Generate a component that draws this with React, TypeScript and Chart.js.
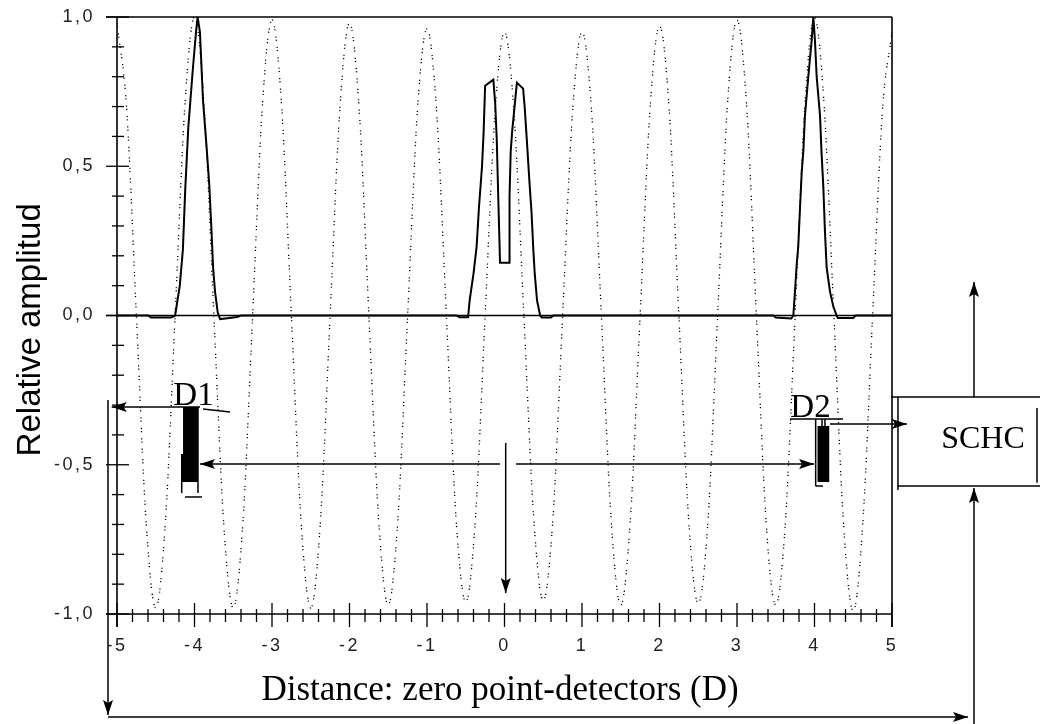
import React, { useEffect, useRef } from 'react';
import { Chart, registerables } from 'chart.js';

Chart.register(...registerables);

// Dotted standing wave (read at 1/8 steps)
const waveX = [
  -5, -4.875, -4.75, -4.625, -4.5, -4.375, -4.25, -4.125,
  -4, -3.875, -3.75, -3.625, -3.5, -3.375, -3.25, -3.125,
  -3, -2.875, -2.75, -2.625, -2.5, -2.375, -2.25, -2.125,
  -2, -1.875, -1.75, -1.625, -1.5, -1.375, -1.25, -1.125,
  -1, -0.875, -0.75, -0.625, -0.5, -0.375, -0.25, -0.125,
  0, 0.125, 0.25, 0.375, 0.5, 0.625, 0.75, 0.875,
  1, 1.125, 1.25, 1.375, 1.5, 1.625, 1.75, 1.875,
  2, 2.125, 2.25, 2.375, 2.5, 2.625, 2.75, 2.875,
  3, 3.125, 3.25, 3.375, 3.5, 3.625, 3.75, 3.875,
  4, 4.125, 4.25, 4.375, 4.5, 4.625, 4.75, 4.875,
  5,
];
const waveY = [
  0.98, 0.69, 0, -0.69, -0.98, -0.69, 0, 0.7,
  1.0, 0.7, 0, -0.69, -0.98, -0.69, 0, 0.7,
  0.99, 0.7, 0, -0.69, -0.98, -0.69, 0, 0.69,
  0.98, 0.69, 0, -0.68, -0.97, -0.68, 0, 0.68,
  0.96, 0.68, 0, -0.68, -0.96, -0.68, 0, 0.67,
  0.95, 0.67, 0, -0.67, -0.955, -0.68, 0, 0.67,
  0.95, 0.68, 0, -0.68, -0.97, -0.68, 0, 0.68,
  0.97, 0.69, 0, -0.68, -0.965, -0.69, 0, 0.7,
  0.99, 0.7, 0, -0.69, -0.97, -0.69, 0, 0.7,
  1.0, 0.7, 0, -0.7, -0.99, -0.69, 0, 0.68,
  0.95,
];

// Solid detected signal
const solidX = [
  -5, -4.6, -4.56, -4.3, -4.25, -4.19, -4.15, -4.12, -4.08, -4.02, -3.98, -3.96,
  -3.93, -3.89, -3.84, -3.81, -3.78, -3.76, -3.735, -3.7, -3.67, -3.6, -3.45, -3.4,
  -0.62, -0.58, -0.47, -0.45, -0.4, -0.36, -0.33, -0.29, -0.27, -0.25, -0.144,
  -0.12, -0.1, -0.08, -0.065, -0.058, 0.06, 0.065, 0.08, 0.1, 0.16, 0.24, 0.26,
  0.29, 0.32, 0.35, 0.37, 0.39, 0.42, 0.46, 0.48, 0.6, 0.63,
  3.47, 3.5, 3.7, 3.727, 3.748, 3.77, 3.79, 3.813, 3.835, 3.856, 3.877, 3.92,
  3.963, 3.985, 4.006, 4.028, 4.071, 4.09, 4.114, 4.135, 4.157, 4.2, 4.243, 4.286,
  4.3, 4.5, 4.53, 5,
];
const solidY = [
  0, 0, -0.007, -0.007, 0, 0.1, 0.22, 0.42, 0.63, 0.83, 0.95, 1.0,
  0.95, 0.72, 0.55, 0.44, 0.28, 0.16, 0.08, 0.01, -0.012, -0.01, -0.005, 0,
  0, -0.006, -0.006, 0.05, 0.14, 0.23, 0.36, 0.5, 0.61, 0.77, 0.79,
  0.71, 0.59, 0.39, 0.25, 0.177, 0.177, 0.4, 0.55, 0.62, 0.78, 0.76, 0.7,
  0.58, 0.455, 0.34, 0.23, 0.14, 0.05, 0, -0.007, -0.007, 0,
  0, -0.007, -0.01, 0, 0.08, 0.17, 0.23, 0.36, 0.48, 0.55, 0.67, 0.8,
  0.92, 1.0, 0.92, 0.8, 0.67, 0.55, 0.43, 0.28, 0.16, 0.08, 0.03, 0,
  -0.008, -0.008, 0, 0,
];

const xTickValues = [-5, -4, -3, -2, -1, 0, 1, 2, 3, 4, 5];
const xTickLabels = ['-5', '-4', '-3', '-2', '-1', '0', '1', '2', '3', '4', '5'];
const yTickValues = [-1, -0.5, 0, 0.5, 1];
const yTickLabels = ['-1,0', '-0,5', '0,0', '0,5', '1,0'];

const yTitle = 'Relative amplitud';
const xTitle = 'Distance: zero point-detectors (D)';

const SERIF = '"Liberation Serif", "Times New Roman", serif';
const SANS = '"Liberation Sans", Arial, sans-serif';

function drawArrow(ctx: CanvasRenderingContext2D, x1: number, y1: number, x2: number, y2: number) {
  ctx.beginPath();
  ctx.moveTo(x1, y1);
  ctx.lineTo(x2, y2);
  ctx.stroke();
  const a = Math.atan2(y2 - y1, x2 - x1);
  const L = 15;
  const W = 5;
  const c = Math.cos(a);
  const s = Math.sin(a);
  ctx.beginPath();
  ctx.moveTo(x2, y2);
  ctx.lineTo(x2 - L * c + W * s, y2 - L * s - W * c);
  ctx.lineTo(x2 - L * c * 0.8, y2 - L * s * 0.8);
  ctx.lineTo(x2 - L * c - W * s, y2 - L * s + W * c);
  ctx.closePath();
  ctx.fill();
}

function seg(ctx: CanvasRenderingContext2D, x1: number, y1: number, x2: number, y2: number) {
  ctx.beginPath();
  ctx.moveTo(x1, y1);
  ctx.lineTo(x2, y2);
  ctx.stroke();
}

const schemePlugin = {
  id: 'scheme',
  beforeDraw(chart: any) {
    (chart.ctx as any).letterSpacing = '2.5px';
  },
  beforeDatasetsDraw(chart: any) {
    (chart.ctx as any).letterSpacing = '0px';
  },
  afterDatasetsDraw(chart: any) {
    const ctx: CanvasRenderingContext2D = chart.ctx;
    const xs = chart.scales.x;
    const ys = chart.scales.y;
    const X = (v: number) => xs.getPixelForValue(v);
    const Y = (v: number) => ys.getPixelForValue(v);
    ctx.save();
    (ctx as any).letterSpacing = '0px';
    ctx.strokeStyle = '#000';
    ctx.fillStyle = '#000';

    // frame and axes
    ctx.lineWidth = 1.6;
    seg(ctx, X(-5) - 11, Y(1), X(5), Y(1));
    seg(ctx, X(-5) - 11, Y(0), X(5), Y(0));
    seg(ctx, X(-5) - 11, Y(-1), X(5), Y(-1));
    seg(ctx, X(-5), Y(1), X(-5), Y(-1) + 13);
    seg(ctx, X(5), Y(1), X(5), Y(-1) + 13);

    // y ticks (major 0.5, minor 0.1)
    ctx.lineWidth = 1.3;
    for (let i = -10; i <= 10; i++) {
      const v = i / 10;
      const major = i % 5 === 0;
      if (major) seg(ctx, X(-5) - 11, Y(v), X(-5) + 12, Y(v));
      else seg(ctx, X(-5) - 5, Y(v), X(-5) + 7, Y(v));
    }
    // x ticks (major 1, minor 0.2)
    for (let i = -25; i <= 25; i++) {
      const v = i / 5;
      const major = i % 5 === 0;
      if (major) seg(ctx, X(v), Y(-1) - 11, X(v), Y(-1) + 13);
      else seg(ctx, X(v), Y(-1) - 5, X(v), Y(-1) + 8);
    }

    // axis titles
    ctx.save();
    ctx.translate(X(-5.994), Y(-0.048));
    ctx.rotate(-Math.PI / 2);
    ctx.font = `33px ${SANS}`;
    ctx.textAlign = 'center';
    ctx.textBaseline = 'alphabetic';
    ctx.fillText(yTitle, 0, 0);
    ctx.restore();

    ctx.font = `35px ${SERIF}`;
    ctx.textAlign = 'center';
    ctx.textBaseline = 'alphabetic';
    ctx.fillText(xTitle, X(-0.058), Y(-1.288));

    // scheme lines & arrows
    ctx.lineWidth = 1.5;
    drawArrow(ctx, X(-5.116), Y(-0.283), X(-5.116), Y(-1.338));
    drawArrow(ctx, X(-5.116), Y(-1.345), X(5.981), Y(-1.345));
    drawArrow(ctx, X(6.058), chart.height, X(6.058), Y(-0.578));
    drawArrow(ctx, X(6.058), Y(-0.273), X(6.058), Y(0.1122));

    // SCHC box
    seg(ctx, X(4.987), Y(-0.273), X(6.91), Y(-0.273));
    seg(ctx, X(5.077), Y(-0.273), X(5.077), Y(-0.585));
    seg(ctx, X(5.077), Y(-0.5712), X(6.91), Y(-0.5712));
    seg(ctx, X(6.871), Y(-0.31), X(6.871), Y(-0.56));
    ctx.font = `32px ${SERIF}`;
    ctx.fillText('SCHC', X(6.174), Y(-0.4439));

    // D1 detector
    ctx.font = `33px ${SERIF}`;
    ctx.fillText('D1', X(-4.013), Y(-0.2998));
    drawArrow(ctx, X(-3.929), Y(-0.3065), X(-5.068), Y(-0.3065));
    ctx.fillRect(X(-4.148), Y(-0.3065), X(-3.955) - X(-4.148), Y(-0.5578) - Y(-0.3065));
    ctx.fillRect(X(-4.165), Y(-0.464), X(-3.955) - X(-4.165), Y(-0.5578) - Y(-0.464));
    seg(ctx, X(-4.165), Y(-0.464), X(-4.165), Y(-0.595));
    seg(ctx, X(-3.955), Y(-0.3065), X(-3.955), Y(-0.595));
    seg(ctx, X(-4.123), Y(-0.608), X(-3.903), Y(-0.608));
    seg(ctx, X(-3.89), Y(-0.3132), X(-3.542), Y(-0.3233));

    // arrows at -0.5 from zero point
    drawArrow(ctx, X(-0.058), Y(-0.4975), X(-3.929), Y(-0.4975));
    drawArrow(ctx, X(0.148), Y(-0.4975), X(3.994), Y(-0.4975));
    drawArrow(ctx, X(0.0155), Y(-0.427), X(0.0155), Y(-0.93));

    // D2 detector
    ctx.fillText('D2', X(3.948), Y(-0.34));
    seg(ctx, X(3.684), Y(-0.3467), X(4.368), Y(-0.3467));
    seg(ctx, X(4.015), Y(-0.3467), X(4.015), Y(-0.5712));
    seg(ctx, X(4.015), Y(-0.5712), X(4.11), Y(-0.5712));
    ctx.fillRect(X(4.039), Y(-0.37), X(4.19) - X(4.039), Y(-0.5578) - Y(-0.37));
    seg(ctx, X(4.097), Y(-0.3467), X(4.097), Y(-0.37));
    seg(ctx, X(4.135), Y(-0.3467), X(4.135), Y(-0.37));
    drawArrow(ctx, X(4.2), Y(-0.3635), X(5.194), Y(-0.3635));

    ctx.restore();
  },
};

const zeroPad = (s: any) => {
  s.paddingTop = 0;
  s.paddingBottom = 0;
  s.paddingLeft = 0;
  s.paddingRight = 0;
};

export default function App() {
  const ref = useRef<HTMLCanvasElement | null>(null);

  useEffect(() => {
    document.body.style.margin = '0';
    const canvas = ref.current;
    if (!canvas) return;
    const chart = new Chart(canvas, {
      type: 'line',
      data: {
        datasets: [
          {
            label: 'signal',
            data: solidX.map((x, i) => ({ x, y: solidY[i] })),
            borderColor: '#000',
            borderWidth: 2,
            pointRadius: 0,
            tension: 0,
            fill: false,
          },
          {
            label: 'wave',
            data: waveX.map((x, i) => ({ x, y: waveY[i] })),
            borderColor: '#000',
            borderWidth: 1.3,
            borderDash: [1.2, 2, 1.2, 6],
            pointRadius: 0,
            cubicInterpolationMode: 'monotone',
            fill: false,
          },
        ],
      },
      options: {
        responsive: false,
        animation: false,
        devicePixelRatio: 1,
        layout: { padding: { top: 17, right: 148, left: 0, bottom: 0 } },
        plugins: { legend: { display: false }, tooltip: { enabled: false } },
        scales: {
          x: {
            type: 'linear',
            min: -5,
            max: 5,
            offset: false,
            grid: { display: false, drawTicks: false },
            border: { display: false },
            ticks: {
              stepSize: 1,
              autoSkip: false,
              maxRotation: 0,
              padding: 21,
              color: '#222',
              font: { family: SANS, size: 18 },
              callback: (v: any) => {
                const i = xTickValues.indexOf(Number(v));
                return i >= 0 ? xTickLabels[i] : '';
              },
            },
            afterFit: (s: any) => {
              s.height = 110;
              zeroPad(s);
            },
          },
          y: {
            type: 'linear',
            min: -1,
            max: 1,
            grid: { display: false, drawTicks: false },
            border: { display: false },
            ticks: {
              stepSize: 0.5,
              padding: 22,
              color: '#222',
              font: { family: SANS, size: 18 },
              callback: (v: any) => {
                const i = yTickValues.indexOf(Number(v));
                return i >= 0 ? yTickLabels[i] : '';
              },
            },
            afterFit: (s: any) => {
              s.width = 117;
              zeroPad(s);
            },
          },
        },
      },
      plugins: [schemePlugin],
    } as any);
    return () => chart.destroy();
  }, []);

  return (
    <div style={{ width: 1040, height: 724 }}>
      <canvas ref={ref} width={1040} height={724} style={{ display: 'block' }} />
    </div>
  );
}
